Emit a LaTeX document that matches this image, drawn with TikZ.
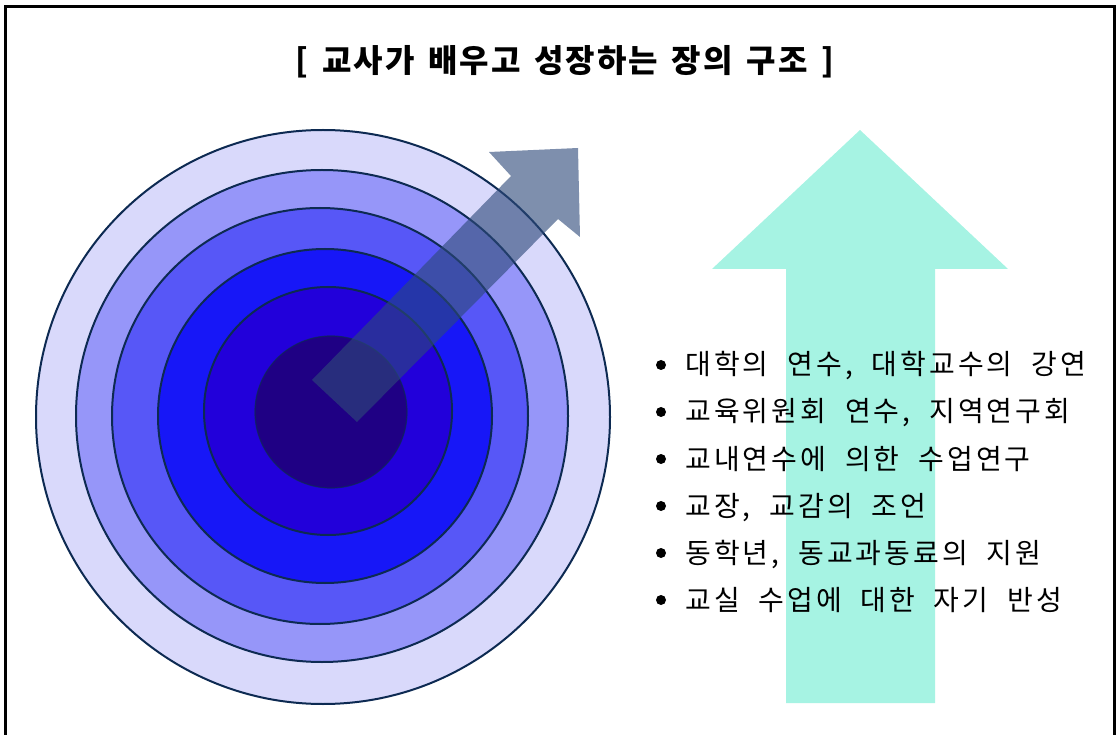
\documentclass[tikz,border=0pt]{standalone}
\usepackage{fontspec}
\newfontfamily\titlefont[WordSpace=1.5,LetterSpace=6]{Noto Sans CJK KR}
\newfontfamily\listfont[WordSpace=2,LetterSpace=11]{Noto Sans CJK KR}
\definecolor{ringA}{HTML}{D9D9FB}
\definecolor{ringB}{HTML}{9696F9}
\definecolor{ringC}{HTML}{5757F7}
\definecolor{ringD}{HTML}{1717F7}
\definecolor{ringE}{HTML}{2200DA}
\definecolor{ringF}{HTML}{1F0084}
\definecolor{ringline}{HTML}{0D2A52}
\definecolor{slatearrow}{HTML}{2E4A7A}
\definecolor{mint}{HTML}{A6F3E3}
\tikzset{
  ring/.style={draw=ringline, line width=2pt},
  item/.style={anchor=base west, inner sep=0pt, font=\listfont\fontsize{28}{32}\selectfont},
  bulletdot/.style={circle, fill=black, inner sep=0pt, minimum size=10pt},
}
\begin{document}
\begin{tikzpicture}[x=1pt,y=-1pt]
\useasboundingbox (0,0) rectangle (1120,735);
% frame
\draw[line width=3pt] (5.5,760) -- (5.5,6.5) -- (1114.5,6.5) -- (1114.5,760);
% title
\node[anchor=base, inner sep=0pt, font=\titlefont\bfseries\fontsize{32}{36}\selectfont] (title) at (565,73) {[ 교사가 배우고 성장하는 장의 구조 ]};
% target circles
\fill[ringA] (323,417) circle (287);
\draw[ring] (323,417) circle (287);
\fill[ringB] (322,416) circle (246);
\draw[ring] (322,416) circle (246);
\fill[ringC] (320,416) circle (208);
\draw[ring] (320,416) circle (208);
\fill[ringD] (325,416) circle (167);
\draw[ring] (325,416) circle (167);
\fill[ringE] (328,411) circle (124);
\draw[ring] (328,411) circle (124);
\fill[ringF] (331,412) circle (76);
\draw[ringline, line width=1.2pt, opacity=0.7] (331,412) circle (76);
% diagonal arrow
\fill[slatearrow, opacity=0.62] (312,380) -- (511,176) -- (489,152) -- (578,148) -- (580,237) -- (558,219) -- (357,422) -- cycle;
% big mint arrow
\fill[mint] (860,130) -- (1008,269) -- (935,269) -- (935,703) -- (786,703) -- (786,269) -- (712,269) -- cycle;
% list
\foreach \y/\t [count=\i] in {375/{대학의 연수, 대학교수의 강연},
  422/{교육위원회 연수, 지역연구회},
  469/{교내연수에 의한 수업연구},
  516/{교장, 교감의 조언},
  563/{동학년, 동교과동료의 지원},
  610/{교실 수업에 대한 자기 반성}}{
  \node[bulletdot] (b\i) at (661,\y-10) {};
  \node[item] (t\i) at (685,\y) {\t};
}
\end{tikzpicture}
\end{document}
